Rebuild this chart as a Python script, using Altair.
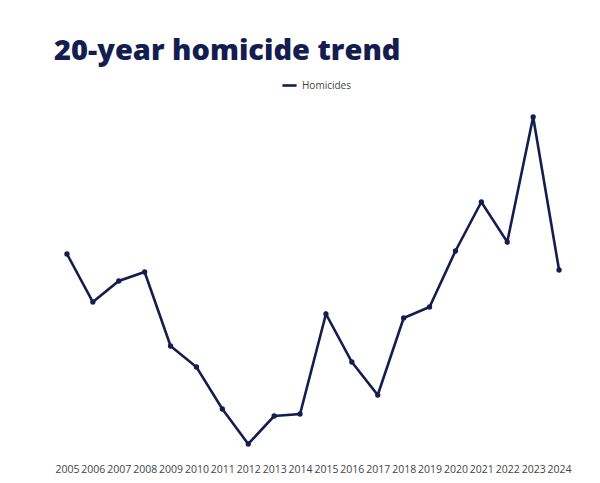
import altair as alt
import pandas as pd

years = [str(y) for y in range(2005, 2025)]
homicides = [202, 154, 175, 184, 110, 89, 47, 12, 40, 42,
             142, 94, 61, 138, 149, 205, 254, 214, 339, 186]
series = ["Homicides"] * len(years)

df = pd.DataFrame({"Year": years, "Value": homicides, "Series": series})

navy = "#141d4f"

x = alt.X("Year:O", sort=years, title=None,
          scale=alt.Scale(type="point", padding=0.5),
          axis=alt.Axis(labelAngle=0, ticks=False, domain=False, grid=False,
                        labelFontSize=10.5, labelColor="#444444", labelPadding=8,
                        labelFont="Open Sans"))
y = alt.Y("Value:Q", title=None, scale=alt.Scale(domain=[0, 355], nice=False, zero=False),
          axis=None)

line = alt.Chart(df).mark_line(strokeWidth=2.6).encode(
    x=x, y=y,
    color=alt.Color("Series:N", scale=alt.Scale(range=[navy]),
                    legend=alt.Legend(title=None, orient="none", legendX=227, legendY=-24,
                                      direction="horizontal",
                                      symbolType="stroke",
                                      symbolStrokeWidth=2.6, symbolSize=200,
                                      labelFontSize=10, labelColor="#444444",
                                      labelFont="Open Sans"))
)
pts = alt.Chart(df).mark_point(filled=True, size=28, opacity=1).encode(
    x=x, y=y, color=alt.value(navy)
)

chart = (line + pts).properties(
    width=518, height=355,
    padding={"left": 46, "top": 29, "right": 5, "bottom": 5},
    title=alt.TitleParams("20-year homicide trend", anchor="start", font="Open Sans",
                          fontSize=29, fontWeight=800, color=navy, offset=11),
).configure_view(stroke=None)

chart.save("out.html", embed_options={"renderer": "svg", "actions": False})
